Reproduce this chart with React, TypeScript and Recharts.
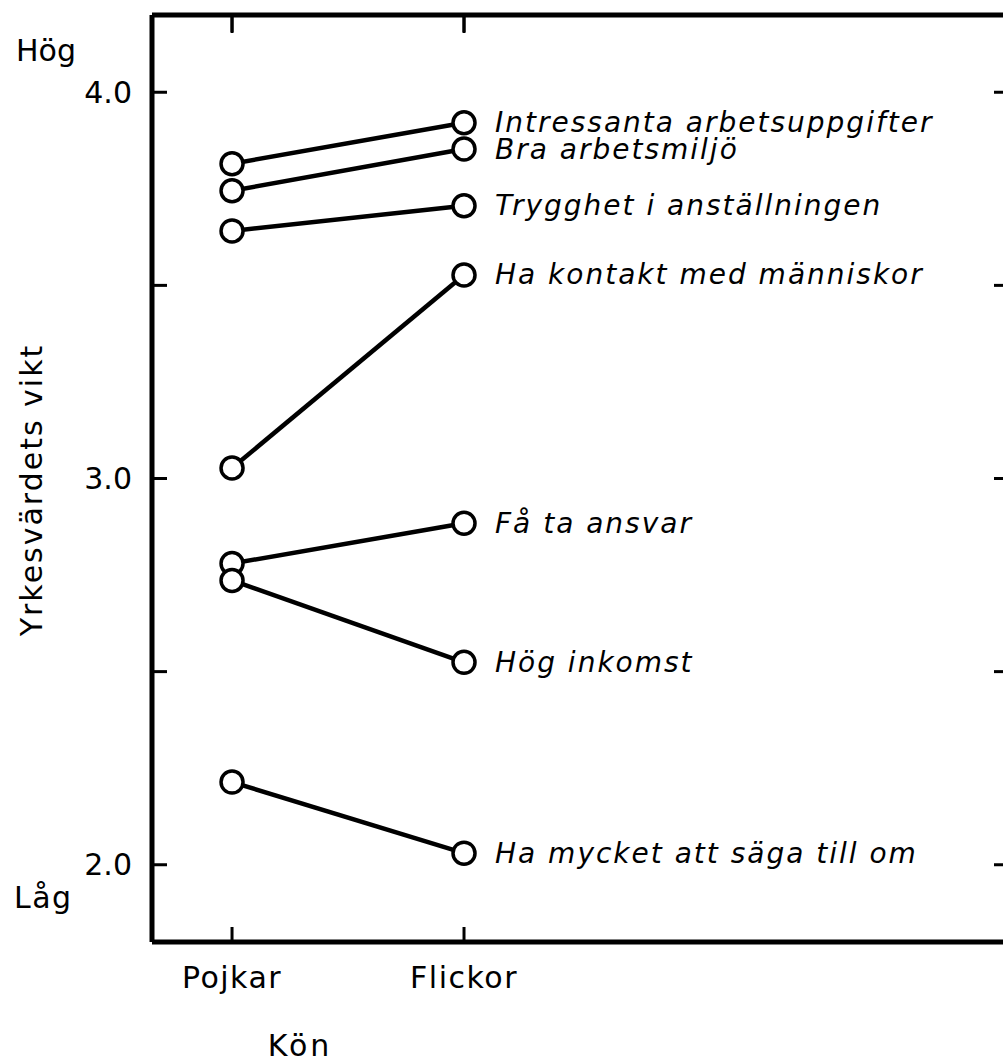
import { LineChart, Line, XAxis, YAxis } from 'recharts';

const categories = ['Pojkar', 'Flickor'];

const intressantaArbetsuppgifter = [3.815, 3.921];
const braArbetsmiljo = [3.745, 3.853];
const trygghetIAnstallningen = [3.641, 3.706];
const haKontaktMedManniskor = [3.027, 3.527];
const faTaAnsvar = [2.78, 2.884];
const hogInkomst = [2.736, 2.524];
const haMycketAttSagaTillOm = [2.214, 2.03];

const seriesNames = [
  'Intressanta arbetsuppgifter',
  'Bra arbetsmiljö',
  'Trygghet i anställningen',
  'Ha kontakt med människor',
  'Få ta ansvar',
  'Hög inkomst',
  'Ha mycket att säga till om',
];

const yTicks = [2, 2.5, 3, 3.5, 4];
const yTickLabels = ['2.0', '', '3.0', '', '4.0'];
const yDomain = [1.8, 4.2];

// categories sit at positions 1 and 2; the frame runs far to the right of them
const xTicks = [1, 2];
const xDomain = [0.655, 4.345];

const FONT = '"DejaVu Sans", sans-serif';

// chart box
const W = 1014;
const H = 1064;
const LEFT_W = 152;
const RIGHT_W = 6;
const TOP = 16;

const series = [
  intressantaArbetsuppgifter,
  braArbetsmiljo,
  trygghetIAnstallningen,
  haKontaktMedManniskor,
  faTaAnsvar,
  hogInkomst,
  haMycketAttSagaTillOm,
].map((values, i) => ({ key: `s${i}`, name: seriesNames[i], values }));

const data = categories.map((kon, i) => {
  const row: Record<string, string | number> = { kon, pos: xTicks[i] };
  series.forEach((s) => {
    row[s.key] = s.values[i];
  });
  return row;
});

const axisLine = { stroke: '#000', strokeWidth: 5 };
const tickLine = { stroke: '#000', strokeWidth: 3 };

const yTickFormat = (v: number) => {
  const i = yTicks.indexOf(v);
  return i >= 0 ? yTickLabels[i] : '';
};
const xTickFormat = (v: number) => {
  const i = xTicks.indexOf(v);
  return i >= 0 ? categories[i] : '';
};

// same linear mapping as the x axis, used for the inward ticks on the top frame
const plotRight = W - RIGHT_W;
const xPix = (t: number) =>
  LEFT_W + ((t - xDomain[0]) / (xDomain[1] - xDomain[0])) * (plotRight - LEFT_W);

function SeriesLabel(props: any) {
  const { x, y, index, name } = props;
  if (index !== categories.length - 1) return null;
  return (
    <text
      x={x + 31}
      y={y}
      dominantBaseline="central"
      fontFamily={FONT}
      fontStyle="italic"
      fontSize={28}
      letterSpacing={2}
      fill="#000"
    >
      {name}
    </text>
  );
}

export default function App() {
  return (
    <div
      style={{
        position: 'relative',
        width: 1003,
        height: H,
        overflow: 'hidden',
        background: '#fff',
      }}
    >
      <style>{'body{margin:0}'}</style>
      <LineChart
        width={W}
        height={H}
        data={data}
        margin={{ top: TOP - 1, right: 0, bottom: 0, left: 0 }}
      >
        <XAxis
          dataKey="pos"
          type="number"
          domain={xDomain}
          ticks={xTicks}
          allowDataOverflow
          height={122}
          axisLine={axisLine}
          tickLine={tickLine}
          tickSize={-15}
          tickMargin={40}
          tickFormatter={xTickFormat}
          tick={{ fill: '#000', fontSize: 30, fontFamily: FONT, letterSpacing: 1.5 }}
          label={{
            value: 'Kön',
            content: () => (
              <text
                x={300}
                y={1056}
                textAnchor="middle"
                fontFamily={FONT}
                fontSize={30}
                letterSpacing={3}
                fill="#000"
              >
                Kön
              </text>
            ),
          }}
        />
        <XAxis
          xAxisId="top"
          orientation="top"
          mirror
          dataKey="pos"
          type="number"
          domain={xDomain}
          ticks={xTicks}
          allowDataOverflow
          height={1}
          axisLine={axisLine}
          tickLine={tickLine}
          tickSize={17}
          tickFormatter={() => ''}
        />
        <YAxis
          width={LEFT_W}
          domain={yDomain}
          ticks={yTicks}
          type="number"
          allowDataOverflow
          axisLine={axisLine}
          tickLine={tickLine}
          tickSize={-15}
          tickMargin={35}
          tickFormatter={yTickFormat}
          tick={{ fill: '#000', fontSize: 30, fontFamily: FONT }}
          label={{
            value: 'Yrkesvärdets vikt',
            content: () => (
              <g fontFamily={FONT} fontSize={30} fill="#000">
                <text x={16} y={61}>Hög</text>
                <text x={14} y={908} letterSpacing={1.5}>Låg</text>
                <text
                  transform="translate(31,490) rotate(-90)"
                  textAnchor="middle"
                  dominantBaseline="central"
                  letterSpacing={2}
                >
                  Yrkesvärdets vikt
                </text>
              </g>
            ),
          }}
        />
        <YAxis
          yAxisId="right"
          orientation="right"
          width={RIGHT_W}
          domain={yDomain}
          ticks={yTicks}
          type="number"
          allowDataOverflow
          axisLine={axisLine}
          tickLine={tickLine}
          tickSize={-14}
          tickFormatter={() => ''}
        />
        {/* invisible series so the top and right frame axes get drawn */}
        <Line
          xAxisId="top"
          yAxisId="right"
          dataKey={series[0].key}
          stroke="none"
          dot={false}
          activeDot={false}
          legendType="none"
          isAnimationActive={false}
        />
        {series.map((s) => (
          <Line
            key={s.key}
            dataKey={s.key}
            name={s.name}
            type="linear"
            stroke="#000"
            strokeWidth={4.5}
            dot={{ r: 11, fill: '#fff', stroke: '#000', strokeWidth: 3.5 }}
            activeDot={false}
            isAnimationActive={false}
            label={(p: any) => <SeriesLabel {...p} name={s.name} />}
          />
        ))}
      </LineChart>
      <svg
        width={1003}
        height={40}
        style={{ position: 'absolute', left: 0, top: 0, pointerEvents: 'none' }}
      >
        {xTicks.map((t) => (
          <line
            key={t}
            x1={xPix(t)}
            x2={xPix(t)}
            y1={TOP}
            y2={TOP + 17}
            stroke="#000"
            strokeWidth={3}
          />
        ))}
      </svg>
    </div>
  );
}
